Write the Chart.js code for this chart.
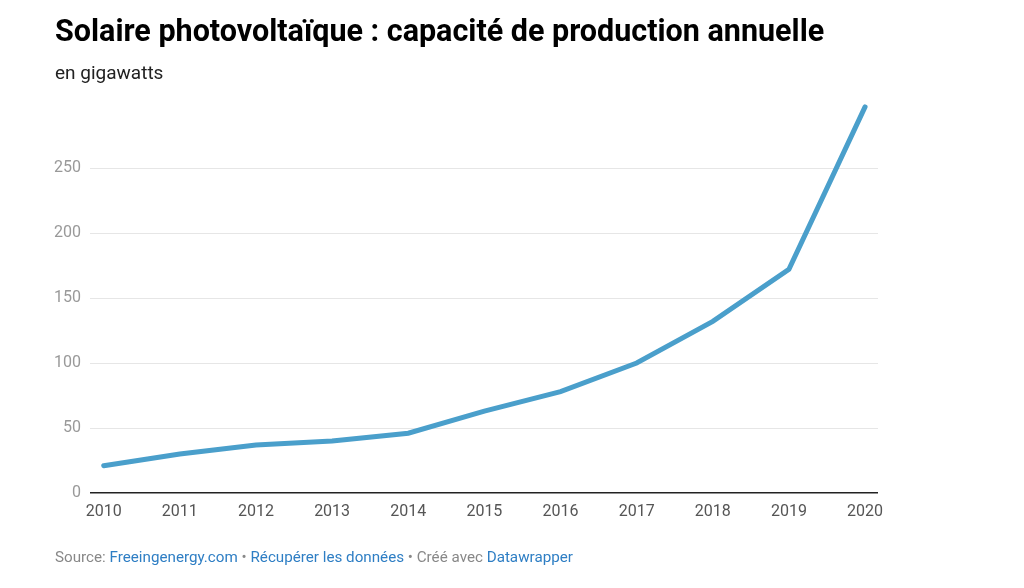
<!DOCTYPE html>
<html>
<head>
<meta charset="utf-8">
<script src="https://cdn.jsdelivr.net/npm/chart.js@4/dist/chart.umd.min.js"></script>
<style>
  html, body { margin: 0; padding: 0; background: #fff; width: 1024px; height: 588px; overflow: hidden; font-family: Roboto, "Noto Sans", sans-serif; }
  #wrap { position: relative; width: 1024px; height: 588px; }
  #c { position: absolute; left: 0; top: 0; }
  .title { position: absolute; left: 55px; top: 12px; font-size: 30.5px; font-weight: 700; color: #000; letter-spacing: 0px; white-space: nowrap; line-height: 38px; }
  .sub { position: absolute; left: 55px; top: 61px; font-size: 19px; color: #222; line-height: 24px; }
  .foot { position: absolute; left: 55px; top: 547px; font-size: 15.2px; color: #888; white-space: nowrap; line-height: 20px; }
  .foot a { color: #2e7ec4; text-decoration: none; }
</style>
</head>
<body>
<div id="wrap">
  <canvas id="c" width="1024" height="588"></canvas>
  <div class="title">Solaire photovoltaïque : capacité de production annuelle</div>
  <div class="sub">en gigawatts</div>
  <div class="foot">Source: <a>Freeingenergy.com</a> • <a>Récupérer les données</a> • Créé avec <a>Datawrapper</a></div>
</div>
<script>
const years = [2010, 2011, 2012, 2013, 2014, 2015, 2016, 2017, 2018, 2019, 2020];
const capacity = [21, 30, 37, 40, 46, 63, 78, 100, 132, 172, 297];
const yTicks = [0, 50, 100, 150, 200, 250];

new Chart(document.getElementById('c'), {
  type: 'line',
  data: {
    datasets: [{
      data: years.map((y, i) => ({ x: y, y: capacity[i] })),
      borderColor: '#4a9fcb',
      borderWidth: 5,
      borderCapStyle: 'round',
      borderJoinStyle: 'miter',
      pointRadius: 0,
      fill: false,
      tension: 0,
      clip: false
    }]
  },
  options: {
    responsive: false,
    animation: false,
    devicePixelRatio: 1,
    layout: { padding: { left: 30, right: 146, top: 103, bottom: 55 } },
    plugins: { legend: { display: false }, tooltip: { enabled: false } },
    scales: {
      x: {
        type: 'linear',
        min: 2009.82,
        max: 2020.17,
        afterBuildTicks: s => { s.ticks = years.map(v => ({ value: v })); },
        afterFit: s => { s.height = 40; },
        grid: { display: false, drawTicks: false },
        border: { display: false },
        ticks: {
          padding: 9,
          color: '#555',
          font: { family: 'Roboto', size: 16 },
          maxRotation: 0,
          autoSkip: false,
          callback: v => String(v)
        }
      },
      y: {
        min: 0,
        max: 300,
        afterBuildTicks: s => { s.ticks = yTicks.map(v => ({ value: v })); },
        afterFit: s => { s.width = 60; },
        grid: {
          drawTicks: false,
          color: ctx => (ctx.tick && ctx.tick.value === 0) ? '#222' : '#e6e6e6',
          lineWidth: ctx => (ctx.tick && ctx.tick.value === 0) ? 1.5 : 1
        },
        border: { display: false },
        ticks: {
          padding: 9,
          color: '#999',
          font: { family: 'Roboto', size: 16 },
          callback: v => String(v)
        }
      }
    }
  }
});
</script>
</body>
</html>
